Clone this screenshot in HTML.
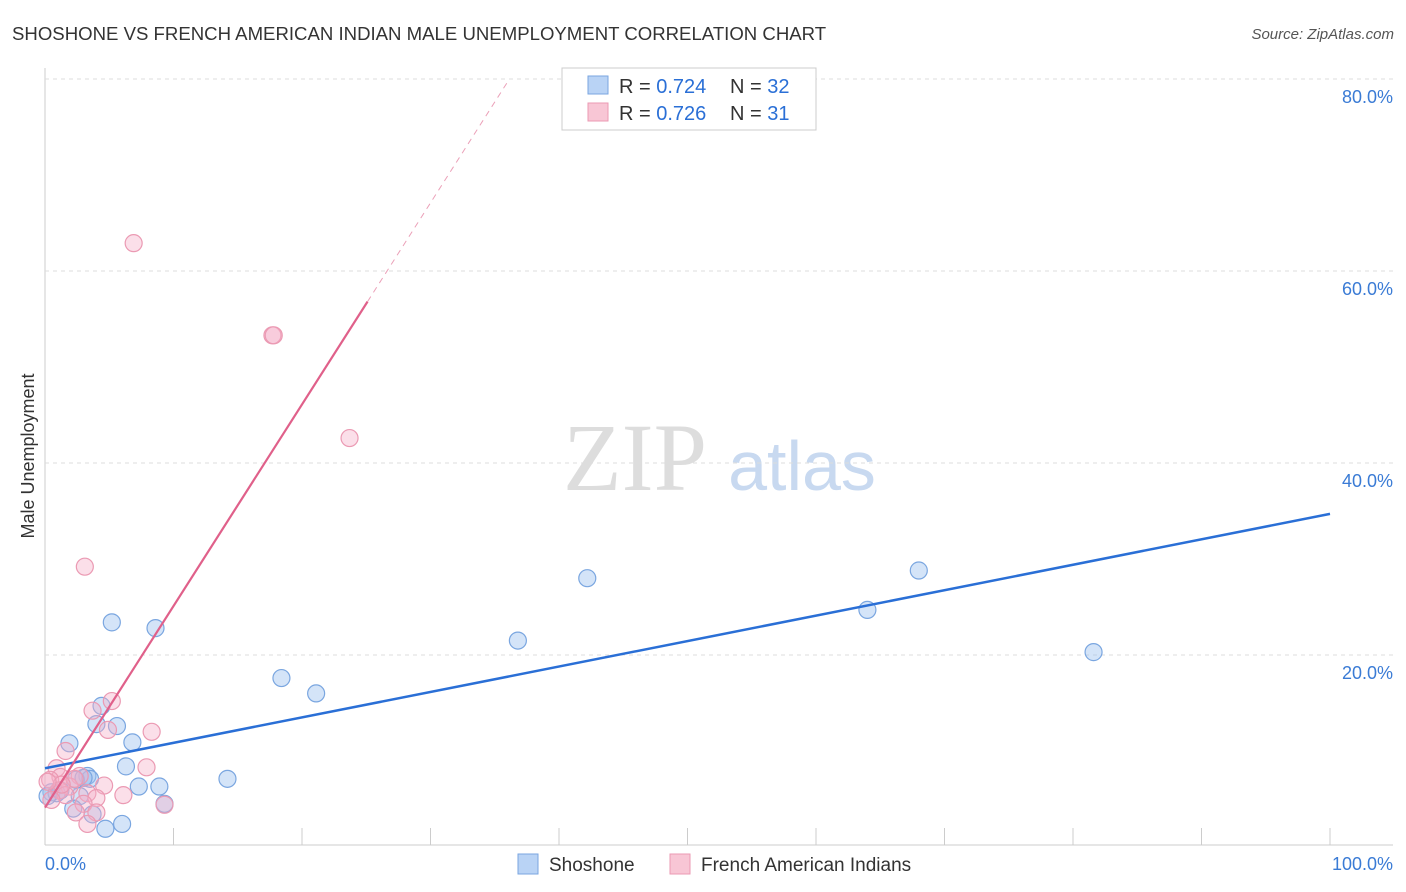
<!DOCTYPE html>
<html><head><meta charset="utf-8"><style>
body{margin:0;background:#fff;font-family:"Liberation Sans",sans-serif;}
svg{display:block}
</style></head><body>
<svg id="c" width="1406" height="892">
<text x="12" y="40" font-size="18.6" fill="#333">SHOSHONE VS FRENCH AMERICAN INDIAN MALE UNEMPLOYMENT CORRELATION CHART</text>
<text x="1394" y="39" font-size="15" fill="#555" font-style="italic" text-anchor="end">Source: ZipAtlas.com</text>
<text transform="translate(34,456) rotate(-90)" font-size="18" fill="#333" text-anchor="middle">Male Unemployment</text>
<text x="635" y="490" font-size="96" fill="#ddd" font-family="Liberation Serif,serif" text-anchor="middle">ZIP</text>
<text x="802" y="490" font-size="70" fill="#c8d9f0" text-anchor="middle">atlas</text>
<g id="grid"></g><g id="marks"></g>
<g>
<rect x="562" y="68" width="254" height="62" fill="#fff" stroke="#ccc"/>
<rect x="588" y="76" width="20" height="18" fill="#b9d3f5" stroke="#7aa6e0"/>
<rect x="588" y="103" width="20" height="18" fill="#f8c6d5" stroke="#eb9ab3"/>
<text x="619" y="93" font-size="20" fill="#333">R = <tspan fill="#2a6fd6">0.724</tspan></text>
<text x="730" y="93" font-size="20" fill="#333">N = <tspan fill="#2a6fd6">32</tspan></text>
<text x="619" y="120" font-size="20" fill="#333">R = <tspan fill="#2a6fd6">0.726</tspan></text>
<text x="730" y="120" font-size="20" fill="#333">N =  <tspan fill="#2a6fd6">31</tspan></text>
</g>
<g>
<rect x="518" y="854" width="20" height="20" fill="#b9d3f5" stroke="#7aa6e0"/>
<text x="549" y="871" font-size="19" fill="#333">Shoshone</text>
<rect x="670" y="854" width="20" height="20" fill="#f8c6d5" stroke="#eb9ab3"/>
<text x="701" y="871" font-size="19" fill="#333">French American Indians</text>
</g>
<text x="45" y="870" font-size="18" fill="#3a7bd5">0.0%</text>
<text x="1393" y="870" font-size="18" fill="#3a7bd5" text-anchor="end">100.0%</text>
</svg>
<script>
const yTicks=[20,40,60,80];
const blueX=[5.2,8.6,4.4,4.0,5.6,6.8,1.9,6.3,3.3,3.5,7.3,8.9,0.5,0.9,0.2,2.7,2.2,3.7,4.7,6.0,9.3,14.2,18.4,21.1,36.8,42.2,64.0,68.0,81.6,1.2,2.4,3.0];
const blueY=[23.4,22.8,14.7,12.8,12.6,10.9,10.8,8.4,7.4,7.1,6.3,6.3,5.7,5.6,5.3,5.3,4.0,3.4,1.9,2.4,4.5,7.1,17.6,16.0,21.5,28.0,24.7,28.8,20.3,5.9,7.0,7.2];
const pinkX=[6.9,17.7,17.8,23.7,3.1,5.2,3.7,4.9,8.3,1.6,7.9,0.9,1.2,2.7,0.4,4.6,1.9,3.3,6.1,4.0,3.0,9.3,2.4,4.0,3.3,1.1,1.6,0.5,2.3,1.3,0.2];
const pinkY=[62.9,53.3,53.3,42.6,29.2,15.2,14.2,12.2,12.0,10.0,8.3,8.2,7.3,7.4,7.0,6.4,6.3,5.6,5.4,5.1,4.5,4.4,3.6,3.6,2.4,5.9,5.4,4.9,7.1,6.5,6.8];
const blueLine=[8.2,34.7];
const pinkLine=[4.1,2.1];
const X=v=>45+v*12.85, Y=v=>847-v*9.6;
const NS="http://www.w3.org/2000/svg";
const g=document.getElementById('grid'),m=document.getElementById('marks');
function el(t,a,p){const e=document.createElementNS(NS,t);for(const k in a)e.setAttribute(k,a[k]);p.appendChild(e);return e;}
el('line',{x1:45,y1:68,x2:45,y2:845,stroke:'#ccc'},g);
el('line',{x1:45,y1:845,x2:1393,y2:845,stroke:'#ccc'},g);
for(let i=1;i<=10;i++){const t=el('line',{x1:X(i*10),y1:828,x2:X(i*10),y2:845,stroke:'#ccc'},g);

}
yTicks.forEach(v=>{const l=el('line',{x1:45,y1:Y(v),x2:1393,y2:Y(v),stroke:'#ddd','stroke-dasharray':'4,4'},g);


const t=el('text',{x:1393,y:Y(v)+24,'font-size':18,fill:'#3a7bd5','text-anchor':'end'},g);t.textContent=v.toFixed(1)+'%';

});
blueX.forEach((x,i)=>{const c=el('circle',{cx:X(x),cy:Y(blueY[i]),r:8.5,fill:'rgba(160,195,240,0.45)',stroke:'#7aa6e0','stroke-width':1.2},m);

});
pinkX.forEach((x,i)=>{const c=el('circle',{cx:X(x),cy:Y(pinkY[i]),r:8.5,fill:'rgba(245,175,200,0.4)',stroke:'#eb9ab3','stroke-width':1.2},m);

});
const bl=el('line',{x1:X(0),y1:Y(blueLine[0]),x2:X(100),y2:Y(blueLine[1]),stroke:'#2a6fd6','stroke-width':2.5},m);


const pl=el('line',{x1:X(0),y1:Y(pinkLine[0]),x2:X(25.1),y2:Y(pinkLine[0]+pinkLine[1]*25.1),stroke:'#e0608a','stroke-width':2.2},m);


const pd=el('line',{x1:X(25.1),y1:Y(pinkLine[0]+pinkLine[1]*25.1),x2:X(36),y2:Y(pinkLine[0]+pinkLine[1]*36),stroke:'#eba0b8','stroke-width':1,'stroke-dasharray':'6,5'},m);


</script>
</body></html>
